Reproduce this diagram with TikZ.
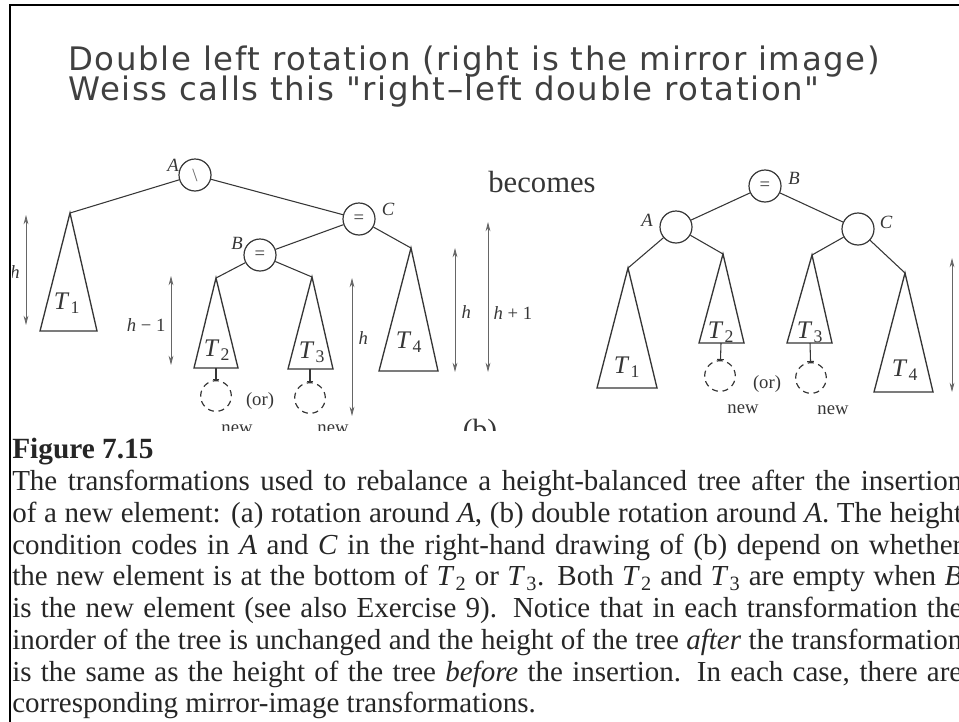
\documentclass[tikz,border=0pt]{standalone}
\usepackage{fontspec}
\setmainfont{Liberation Serif}
\newfontfamily\slidefont[LetterSpace=5]{DejaVu Sans}
\usetikzlibrary{arrows.meta}
\definecolor{dink}{HTML}{363636}
\definecolor{dgrey}{HTML}{666666}
\definecolor{dtitle}{HTML}{404040}
\definecolor{dtext}{HTML}{262626}
\newcommand{\Tsub}[1]{\textit{T}\kern0.04em\textsubscript{#1}}
\tikzset{
  >={Stealth[length=7pt,width=3.6pt]},
  tnode/.style={circle, draw=dink, line width=0.9pt, minimum size=24pt,
                inner sep=0pt, text=dink, font=\fontsize{14}{14}\selectfont},
  tedge/.style={dink, line width=0.8pt},
  tsub/.style={draw=dink, line width=1pt, line join=miter},
  tnew/.style={circle, draw=dink, dash pattern=on 4.5pt off 3.5pt,
               line width=0.9pt, minimum size=23pt, inner sep=0pt},
  tstub/.style={dink, line width=0.8pt, -{Bar[width=5pt,line width=0.8pt]}},
  tdim/.style={<->, dgrey, line width=0.6pt},
  tlbl/.style={dink, inner sep=1pt, font=\fontsize{14}{14}\selectfont\itshape},
  tsml/.style={dink, inner sep=1pt, font=\fontsize{14}{14}\selectfont},
  tname/.style={dink, inner sep=0pt, font=\fontsize{19}{19}\selectfont},
  ttitle/.style={anchor=base west, inner sep=0pt, text=dtitle,
                 font=\slidefont\fontsize{24.3}{24.3}\selectfont},
}

\begin{document}
\begin{tikzpicture}[x=0.75pt,y=-0.75pt]
  \useasboundingbox (0,0) rectangle (959,721);

  % slide title
  \node[ttitle] (title1) at (68,70) {Double left rotation (right is the mirror image)};
  \node[ttitle] (title2) at (68,100) {Weiss calls this "right–left double rotation"};

  \begin{scope}
    \clip (12,140) rectangle (959,430);

    % left tree, before
    \node[tnode] (la) at (195,175) {\textcolor{dgrey}{\textbackslash}};
    \node[tnode] (lc) at (359,219) {=};
    \node[tnode] (lb) at (260,255) {=};
    \node[tlbl] (laA) at (173,165) {A};
    \node[tlbl] (lcC) at (388,209) {C};
    \node[tlbl] (lbB) at (237,243) {B};

    \coordinate (lt1) at (70,213);
    \coordinate (lt2) at (216,278);
    \coordinate (lt3) at (312,277);
    \coordinate (lt4) at (411,248);
    \draw[tedge] (la) -- (lt1);
    \draw[tedge] (la) -- (lc);
    \draw[tedge] (lc) -- (lb);
    \draw[tedge] (lc) -- (lt4);
    \draw[tedge] (lb) -- (lt2);
    \draw[tedge] (lb) -- (lt3);

    \draw[tsub] (lt1) -- (40,331) -- (97,331) -- cycle;
    \draw[tsub] (lt2) -- (194,368) -- (238,368) -- cycle;
    \draw[tsub] (lt3) -- (288,369) -- (333,369) -- cycle;
    \draw[tsub] (lt4) -- (379,371) -- (438,371) -- cycle;
    \node[tname] (lT1) at (67,303) {\Tsub{1}};
    \node[tname] (lT2) at (217,350) {\Tsub{2}};
    \node[tname] (lT3) at (312,352) {\Tsub{3}};
    \node[tname] (lT4) at (409,342) {\Tsub{4}};

    % where the new element hangs
    \coordinate (lb2) at (216,368);
    \coordinate (lb3) at (310,369);
    \node[tnew] (ln2) at (216,396) {};
    \node[tnew] (ln3) at (310,398) {};
    \draw[tstub] (lb2) -- (ln2);
    \draw[tstub] (lb3) -- (ln3);
    \node[tsml] (lor) at (260,401) {(or)};
    \node[tsml, anchor=base] (lnew2) at (237,433) {new};
    \node[tsml, anchor=base] (lnew3) at (333,433) {new};

    % heights
    \draw[tdim] (26,215) -- (26,325);
    \node[tlbl] (lh1) at (15,272) {h};
    \draw[tdim] (171,276) -- (171,365);
    \node[tsml, anchor=east] (lhm) at (167,325) {\textit{h} − 1};
    \draw[tdim] (352,278) -- (352,416);
    \node[tlbl, anchor=west] (lh3) at (357,338) {h};
    \draw[tdim] (455,248) -- (455,372);
    \node[tlbl, anchor=west] (lh4) at (460,312) {h};
    \draw[tdim] (488,222) -- (488,372);
    \node[tsml, anchor=west] (lhp) at (492,313) {\textit{h} + 1};

    \node[dink, anchor=base, font=\fontsize{22}{22}\selectfont] (partb) at (480,439) {(b)};
    \node[dink, anchor=base, font=\fontsize{23}{23}\selectfont] (becomes) at (542,192) {becomes};

    % right tree, after
    \node[tnode] (rb) at (765,186) {=};
    \node[tnode] (ra) at (676,227) {};
    \node[tnode] (rc) at (858,229) {};
    \node[tlbl] (rbB) at (794,178) {B};
    \node[tlbl] (raA) at (647,220) {A};
    \node[tlbl] (rcC) at (886,222) {C};

    \coordinate (rt1) at (628,268);
    \coordinate (rt2) at (723,254);
    \coordinate (rt3) at (812,255);
    \coordinate (rt4) at (905,273);
    \draw[tedge] (rb) -- (ra);
    \draw[tedge] (rb) -- (rc);
    \draw[tedge] (ra) -- (rt1);
    \draw[tedge] (ra) -- (rt2);
    \draw[tedge] (rc) -- (rt3);
    \draw[tedge] (rc) -- (rt4);

    \draw[tsub] (rt1) -- (597,388) -- (657,388) -- cycle;
    \draw[tsub] (rt2) -- (699,343) -- (744,343) -- cycle;
    \draw[tsub] (rt3) -- (787,343) -- (832,343) -- cycle;
    \draw[tsub] (rt4) -- (874,392) -- (933,392) -- cycle;
    \node[tname] (rT1) at (627,367) {\Tsub{1}};
    \node[tname] (rT2) at (721,332) {\Tsub{2}};
    \node[tname] (rT3) at (810,332) {\Tsub{3}};
    \node[tname] (rT4) at (905,370) {\Tsub{4}};

    \coordinate (rb2) at (721,343);
    \coordinate (rb3) at (810,343);
    \node[tnew] (rn2) at (720,376) {};
    \node[tnew] (rn3) at (811,378) {};
    \draw[tstub] (rb2) -- (rn2);
    \draw[tstub] (rb3) -- (rn3);
    \node[tsml] (ror) at (767,384) {(or)};
    \node[tsml, anchor=base] (rnew2) at (743,413) {new};
    \node[tsml, anchor=base] (rnew3) at (833,414) {new};

    \draw[tdim] (952,258) -- (952,392);
    \node[tsml, anchor=west] (rhp) at (957,327) {\textit{h} + 1};
  \end{scope}

  % caption
  \node[anchor=base west, inner sep=0pt, text=dtext,
        font=\bfseries\fontsize{22}{22}\selectfont] (fig) at (12,458) {Figure 7.15};
  \node[anchor=north west, inner sep=0pt, text=dtext, text width=712.5pt, align=justify,
        font=\fontsize{21.75}{23.8}\selectfont] (capt) at (12,470)
    {\hyphenpenalty=10000 The transformations used to rebalance a height-balanced tree after the insertion\linebreak
     of a new element: (a) rotation around \textit{A}, (b) double rotation around \textit{A}. The height\linebreak
     condition codes in \textit{A} and \textit{C} in the right-hand drawing of (b) depend on whether\linebreak
     the new element is at the bottom of \Tsub{2} or \Tsub{3}. Both \Tsub{2} and \Tsub{3} are empty when \textit{B}\linebreak
     is the new element (see also Exercise 9). Notice that in each transformation the\linebreak
     inorder of the tree is unchanged and the height of the tree \textit{after} the transformation\linebreak
     is the same as the height of the tree \textit{before} the insertion. In each case, there are\linebreak
     corresponding mirror-image transformations.};

  % slide frame
  \draw[black, line width=2pt] (10,730) -- (10,5) -- (970,5);
\end{tikzpicture}
\end{document}
